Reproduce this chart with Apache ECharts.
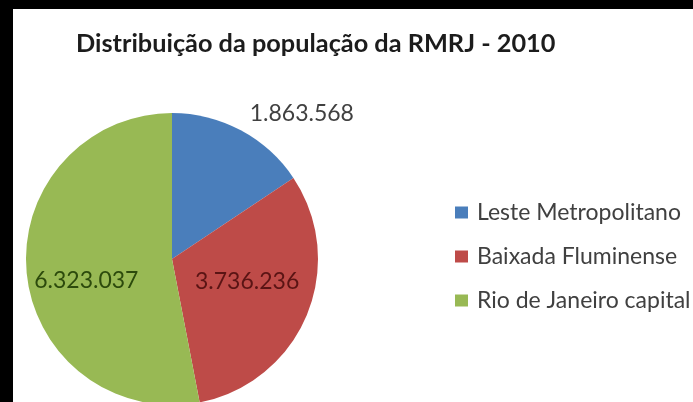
<!DOCTYPE html>
<html>
<head>
<meta charset="utf-8">
<script src="https://cdn.jsdelivr.net/npm/echarts@6/dist/echarts.min.js"></script>
<style>
  html, body { margin: 0; padding: 0; background: #000; }
  #chart { position: absolute; left: 0; top: 0; width: 693px; height: 402px; }
</style>
</head>
<body>
<div id="chart"></div>
<script>
// Population of the Rio de Janeiro metropolitan region (RMRJ), 2010
const titleText = 'Distribuição da população da RMRJ - 2010';
const regions = ['Leste Metropolitano', 'Baixada Fluminense', 'Rio de Janeiro capital'];
const population = [1863568, 3736236, 6323037];
const sliceColors = ['#4a7ebb', '#be4b48', '#98b954'];
const labelColors = ['#404040', '#5a1414', '#2c4a0c'];

// thousands separator with dots (pt-BR style)
function formatPt(v) {
  return String(Math.round(v)).replace(/\B(?=(\d{3})+(?!\d))/g, '.');
}

// per-slice nudges of the value labels away from the default inner spot
const labelShift = [[94, -78], [5, -7], [-10, 14]];

const chart = echarts.init(document.getElementById('chart'), null, { renderer: 'canvas' });
chart.setOption({
  animation: false,
  backgroundColor: 'transparent',
  textStyle: { fontFamily: 'Lato' },
  graphic: [
    { type: 'rect', z: -10, shape: { x: 13, y: 9, width: 680, height: 393 }, style: { fill: '#ffffff' } }
  ],
  title: {
    text: titleText,
    left: 71,
    top: 26,
    textStyle: { fontFamily: 'Lato', fontWeight: 'bold', fontSize: 25.3, color: '#1c1c1c' }
  },
  legend: {
    orient: 'vertical',
    left: 450,
    top: 196,
    itemWidth: 13,
    itemHeight: 12,
    itemGap: 21,
    icon: 'rect',
    data: regions,
    textStyle: { fontFamily: 'Lato', fontSize: 23, color: '#404040', padding: [0, 0, 0, 4] }
  },
  series: [{
    type: 'pie',
    center: [172, 259],
    radius: 146,
    startAngle: 90,
    clockwise: true,
    silent: true,
    data: regions.map((name, i) => ({
      name: name,
      value: population[i],
      itemStyle: { color: sliceColors[i] },
      label: { color: labelColors[i] }
    })),
    label: {
      show: true,
      position: 'inside',
      fontFamily: 'Lato',
      fontSize: 23,
      formatter: p => formatPt(p.value)
    },
    labelLine: { show: false },
    labelLayout: p => ({ dx: labelShift[p.dataIndex][0], dy: labelShift[p.dataIndex][1] })
  }]
});
</script>
</body>
</html>
